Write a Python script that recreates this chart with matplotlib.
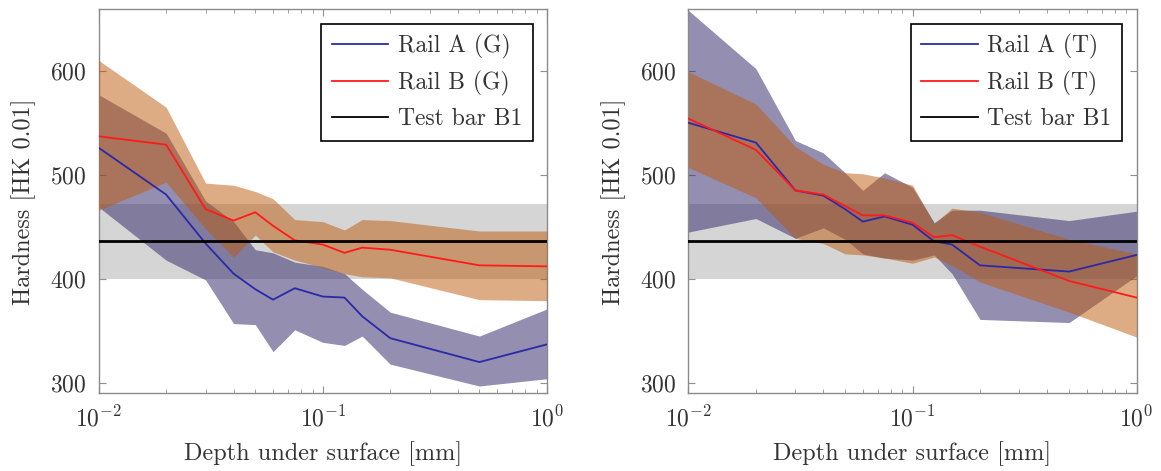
import numpy as np
import matplotlib
matplotlib.use("Agg")
import matplotlib.pyplot as plt

plt.rcParams["font.family"] = ["cmr10", "DejaVu Serif"]
plt.rcParams["mathtext.fontset"] = "cm"
plt.rcParams["axes.formatter.use_mathtext"] = True
plt.rcParams["axes.unicode_minus"] = False

# depth under surface [mm]
depth = [0.01, 0.02, 0.03, 0.04, 0.05, 0.06, 0.075, 0.1, 0.125, 0.15, 0.2, 0.5, 1.0]

# left panel (G)
rail_a_g = [526, 481, 434, 405, 390, 380, 391, 383, 382, 364, 343, 320, 337]
rail_a_g_hi = [577, 540, 475, 455, 428, 425, 416, 412, 405, 390, 368, 345, 371]
rail_a_g_lo = [469, 418, 399, 357, 356, 330, 351, 339, 336, 345, 318, 297, 304]
rail_b_g = [537, 529, 467, 456, 464, 451, 437, 433, 425, 430, 428, 413, 412]
rail_b_g_hi = [610, 565, 492, 490, 484, 477, 457, 455, 447, 457, 456, 446, 446]
rail_b_g_lo = [466, 493, 448, 421, 442, 426, 418, 411, 405, 402, 401, 380, 379]

# right panel (T)
rail_a_t = [550, 531, 485, 480, 467, 455, 460, 452, 436, 433, 413, 407, 423]
rail_a_t_hi = [658, 602, 533, 521, 502, 485, 502, 488, 454, 466, 466, 456, 465]
rail_a_t_lo = [445, 458, 439, 449, 438, 424, 420, 418, 423, 405, 361, 358, 403]
rail_b_t = [554, 524, 485, 481, 470, 461, 461, 454, 440, 442, 431, 398, 382]
rail_b_t_hi = [599, 568, 527, 510, 502, 501, 497, 490, 453, 468, 464, 438, 424]
rail_b_t_lo = [507, 478, 439, 434, 424, 423, 420, 415, 421, 413, 397, 368, 344]

# reference test bar B1
test_bar_mean = 436
test_bar_lo = 400
test_bar_hi = 472

panels = [
    ("G", rail_a_g, rail_a_g_lo, rail_a_g_hi, rail_b_g, rail_b_g_lo, rail_b_g_hi),
    ("T", rail_a_t, rail_a_t_lo, rail_a_t_hi, rail_b_t, rail_b_t_lo, rail_b_t_hi),
]

fig = plt.figure(figsize=(11.61, 4.71), dpi=100)
positions = [[0.085, 0.165, 0.386, 0.815], [0.593, 0.165, 0.386, 0.815]]

for pos, (tag, a, a_lo, a_hi, b, b_lo, b_hi) in zip(positions, panels):
    ax = fig.add_axes(pos)
    ax.set_xscale("log")
    ax.axhspan(test_bar_lo, test_bar_hi, color="#c4c4c4", alpha=0.7, lw=0, zorder=1)
    ax.fill_between(depth, a_lo, a_hi, color="#3c3270", alpha=0.55, lw=0, zorder=2)
    ax.fill_between(depth, b_lo, b_hi, color="#be5a0a", alpha=0.5, lw=0, zorder=3)
    ax.plot(depth, a, color="#2a2aa8", lw=1.3, zorder=5, label=f"Rail A ({tag})")
    ax.plot(depth, b, color="#ff1a1a", lw=1.3, zorder=5, label=f"Rail B ({tag})")
    ax.axhline(test_bar_mean, color="black", lw=2.0, zorder=6, label="Test bar B1")

    ax.set_xlim(0.01, 1.0)
    ax.set_ylim(290, 659)
    ax.set_yticks([300, 400, 500, 600])
    ax.tick_params(which="both", direction="in", top=True, right=True,
                   color="#909090", labelsize=17, labelcolor="#333333")
    ax.tick_params(axis="y", pad=9)
    ax.tick_params(axis="x", pad=9)
    ax.tick_params(which="major", length=5)
    ax.tick_params(which="minor", length=3)
    for s in ax.spines.values():
        s.set_color("#8a8a8a")
        s.set_linewidth(1.0)
    ax.set_xlabel("Depth under surface [mm]", fontsize=17.5, color="#333333", labelpad=7)
    ax.set_ylabel("Hardness [HK 0.01]", fontsize=17.5, color="#333333", labelpad=10)

    leg = ax.legend(loc="upper right", fontsize=17, frameon=True, fancybox=False,
                    handlelength=2.4, borderpad=0.45, labelspacing=0.5,
                    handletextpad=0.4, borderaxespad=0.6)
    leg.get_frame().set_edgecolor("black")
    leg.get_frame().set_linewidth(1.2)
    leg.get_frame().set_alpha(1)
    leg.get_lines()[2].set_linewidth(1.3)
    for t in leg.get_texts():
        t.set_color("#333333")

fig.savefig("out.png", dpi=100)
